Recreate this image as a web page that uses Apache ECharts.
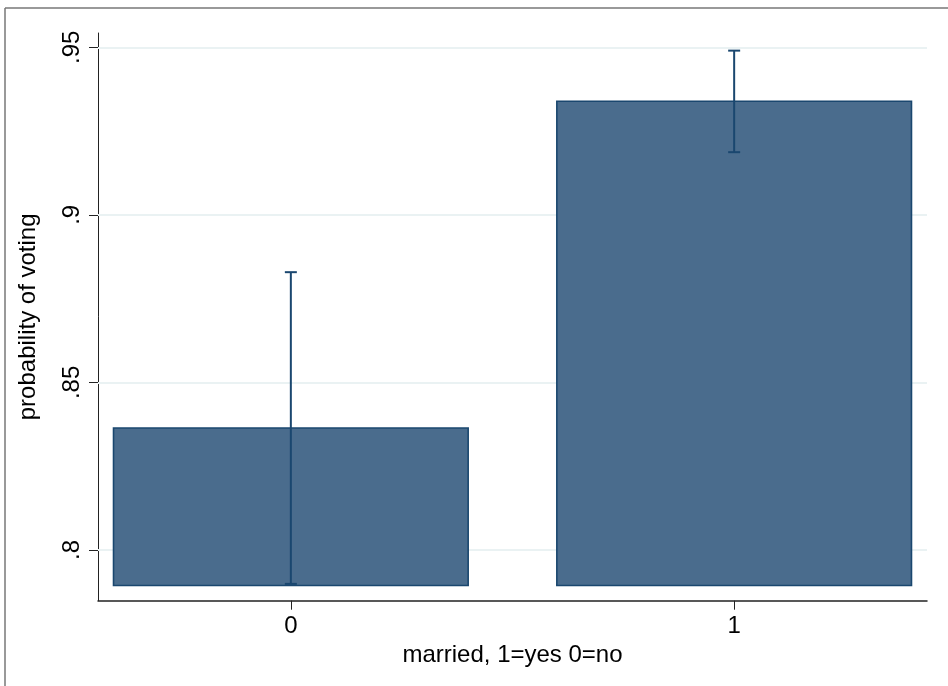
<!DOCTYPE html>
<html>
<head>
<meta charset="utf-8">
<script src="https://cdn.jsdelivr.net/npm/echarts@6/dist/echarts.min.js"></script>
<style>html,body{margin:0;padding:0;background:#fff}#c{width:948px;height:686px}</style>
</head>
<body>
<div id="c"></div>
<script>
const categories = [0, 1];
const probVoting = [0.8364, 0.9339];
const ciLower = [0.7899, 0.9187];
const ciUpper = [0.8829, 0.9490];
const barBase = 0.7894;
const yTicks = [0.8, 0.85, 0.9, 0.95];
const yTickLabels = ['.8', '.85', '.9', '.95'];
const xTickLabels = ['0', '1'];

const FONT = '"Liberation Sans", Arial, Helvetica, sans-serif';
const NAVY = '#1a476f';
const FILL = '#4a6c8d';
const halfW = 0.4;

const chart = echarts.init(document.getElementById('c'), null, {renderer: 'canvas'});
const data = categories.map((c, i) => [c, probVoting[i], ciLower[i], ciUpper[i]]);

chart.setOption({
  animation: false,
  backgroundColor: '#fff',
  grid: {left: 98, top: 33, right: 21, bottom: 85.3, containLabel: false},
  xAxis: {
    type: 'value', min: -0.435, max: 1.435,
    name: 'married, 1=yes 0=no', nameLocation: 'middle', nameGap: 40,
    nameTextStyle: {fontFamily: FONT, fontSize: 24, color: '#000'},
    axisLine: {show: true, onZero: false, lineStyle: {color: '#222', width: 1.5}},
    axisTick: {show: true, length: 9, customValues: categories, lineStyle: {color: '#222', width: 1}},
    axisLabel: {customValues: categories, margin: 14, fontFamily: FONT, fontSize: 24, color: '#000',
      formatter: v => xTickLabels[categories.indexOf(Math.round(v))] ?? ''},
    splitLine: {show: false}
  },
  yAxis: {
    type: 'value', min: 0.78488, max: 0.95426,
    name: 'probability of voting', nameLocation: 'middle', nameGap: 58, nameRotate: 90,
    nameTextStyle: {fontFamily: FONT, fontSize: 24, color: '#000'},
    axisLine: {show: true, onZero: false, lineStyle: {color: '#222', width: 1}},
    axisTick: {show: true, length: 9, customValues: yTicks, lineStyle: {color: '#222', width: 1}},
    axisLabel: {customValues: yTicks, rotate: 90, margin: 14, fontFamily: FONT, fontSize: 24, color: '#000',
      formatter: v => { const i = yTicks.findIndex(t => Math.abs(t - v) < 1e-6); return i >= 0 ? yTickLabels[i] : ''; }},
    splitLine: {show: false}
  },
  series: [
    {
      type: 'line', data: [], silent: true, z: 1,
      markLine: {
        silent: true, symbol: 'none', label: {show: false}, z: 1,
        lineStyle: {color: '#eaf2f3', width: 2, type: 'solid'},
        data: yTicks.map(t => ({yAxis: t}))
      }
    },
    {
      type: 'custom',
      z: 5,
      data: data,
      clip: false,
      renderItem: function (params, api) {
        const x = api.value(0), v = api.value(1), lo = api.value(2), hi = api.value(3);
        const p1 = api.coord([x - halfW, v]);
        const p2 = api.coord([x + halfW, barBase]);
        const cx = api.coord([x, v])[0];
        const yLo = api.coord([x, lo])[1];
        const yHi = api.coord([x, hi])[1];
        const cap = 6;
        return {
          type: 'group',
          children: [
            {type: 'rect', shape: {x: p1[0], y: p1[1], width: p2[0] - p1[0], height: p2[1] - p1[1]},
              style: {fill: FILL, stroke: NAVY, lineWidth: 1.6}},
            {type: 'line', shape: {x1: cx, y1: yLo, x2: cx, y2: yHi}, style: {stroke: NAVY, lineWidth: 2}},
            {type: 'line', shape: {x1: cx - cap, y1: yHi, x2: cx + cap, y2: yHi}, style: {stroke: NAVY, lineWidth: 2}},
            {type: 'line', shape: {x1: cx - cap, y1: yLo, x2: cx + cap, y2: yLo}, style: {stroke: NAVY, lineWidth: 2}}
          ]
        };
      }
    }
  ],
  graphic: [
    {type: 'line', shape: {x1: 5, y1: 8, x2: 948, y2: 8}, style: {stroke: '#777', lineWidth: 1.5}, z: 100},
    {type: 'line', shape: {x1: 5, y1: 8, x2: 5, y2: 686}, style: {stroke: '#777', lineWidth: 1.5}, z: 100}
  ]
});
</script>
</body>
</html>
